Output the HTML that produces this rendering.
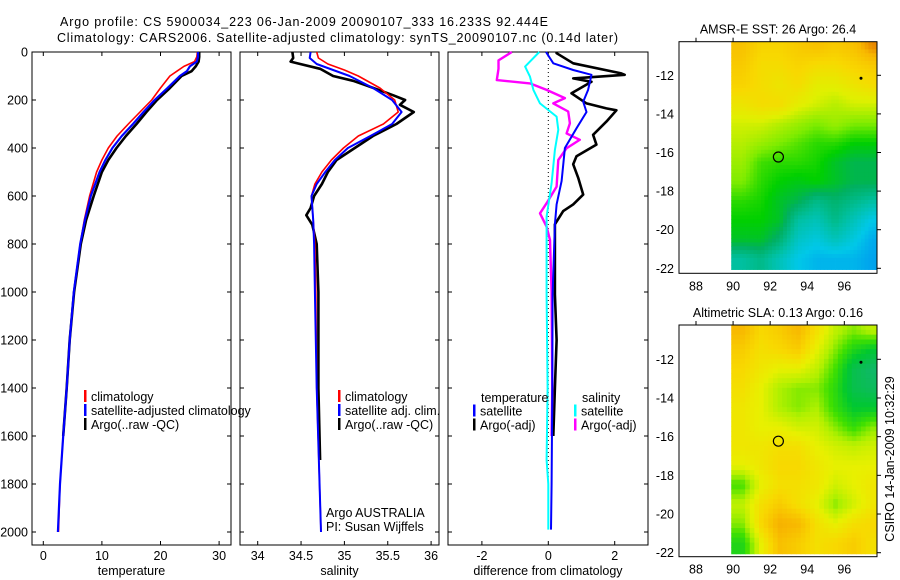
<!DOCTYPE html>
<html><head><meta charset="utf-8"><style>
html,body{margin:0;padding:0;background:#fff;}
svg{display:block;font-family:"Liberation Sans",sans-serif;}
text{font-size:12.5px;fill:#000;}
</style></head><body>
<svg id="fig" width="900" height="580" viewBox="0 0 900 580" xmlns="http://www.w3.org/2000/svg">
<text x="60" y="26" font-size="13.5" textLength="488">Argo profile: CS 5900034_223 06-Jan-2009 20090107_333 16.233S 92.444E</text>
<text x="57" y="42" font-size="13.5" textLength="561">Climatology: CARS2006. Satellite-adjusted climatology: synTS_20090107.nc (0.14d later)</text>
<g id="g1"></g>
<g id="g2"></g>
<g id="g3"></g>
<g id="m1"></g>
<g id="m2"></g>
<text x="0" y="0" transform="translate(894,459) rotate(-90)" text-anchor="middle" font-size="13">CSIRO 14-Jan-2009 10:32:29</text>
</svg>
<script>
// ---------- data ----------
const tDepth = [0,20,40,60,80,100,150,200,250,300,350,400,450,500,600,700,800,1000,1200,1400,1600,1800,2000];
const tClim = [26.3,26.2,25.8,24.0,22.8,21.6,20.0,18.5,16.5,14.5,12.6,11.1,10.0,9.1,7.9,7.0,6.3,5.2,4.5,4.0,3.4,2.85,2.6];
const tSat = [26.4,26.4,26.2,25.0,24.5,23.3,21.2,19.0,17.1,15.3,13.4,11.8,10.6,9.6,8.1,7.1,6.3,5.2,4.5,4.0,3.4,2.85,2.5];
const tArgoDepth = [0,20,40,60,80,100,150,200,250,300,350,400,450,500,600,700,800,1000,1200,1400,1600];
const tArgo = [26.6,26.6,26.5,26.0,25.3,23.6,21.6,19.4,17.6,15.9,14.1,12.5,11.1,10.0,8.6,7.3,6.4,5.25,4.5,4.0,3.4];

const sDepth = [0,25,50,75,100,150,200,250,300,350,400,450,500,550,600,700,800,1000,1400,2000];
const sClim = [34.68,34.70,34.81,35.0,35.16,35.41,35.58,35.62,35.45,35.16,34.99,34.85,34.74,34.66,34.62,34.64,34.66,34.67,34.68,34.73];
const sSat = [34.61,34.60,34.68,34.87,35.06,35.33,35.55,35.66,35.55,35.30,35.04,34.89,34.78,34.68,34.62,34.64,34.65,34.66,34.68,34.73];
const sArgoDepth = [0,25,40,50,70,100,120,140,180,200,220,250,300,350,400,450,500,550,600,650,680,720,800,1000,1400,1700];
const sArgo = [34.40,34.41,34.38,34.49,34.72,34.87,35.10,35.26,35.56,35.70,35.64,35.80,35.60,35.33,35.12,34.91,34.81,34.74,34.65,34.61,34.56,34.63,34.68,34.70,34.70,34.72];

const dBlueDepth = [0,47,75,95,158,207,250,318,400,538,635,718,1010,1400,1800,1990];
const dBlue = [-0.07,0.15,0.75,1.3,1.2,1.05,1.15,0.85,0.5,0.4,0.25,0.2,0.13,0.12,0.1,0.08];
const dBlackDepth = [0,5,47,89,95,110,124,172,214,235,243,290,345,386,434,468,524,594,635,663,718,913,1010,1200,1400,1600];
const dBlack = [0.25,0.25,0.75,2.2,2.3,0.75,1.3,0.7,1.15,1.75,2.05,1.75,1.35,1.45,0.85,0.75,0.9,1.05,0.75,0.45,0.2,0.2,0.2,0.25,0.2,0.15];
const dCyanDepth = [0,61,103,158,214,269,324,408,547,686,1010,1400,1700,1800,1990];
const dCyan = [-0.27,-0.7,-0.55,-0.45,-0.25,0.25,0.3,0.2,0.1,-0.05,-0.05,-0.02,-0.05,0.0,0.0];
const dMagDepth = [0,35,70,117,131,158,192,214,248,297,339,366,401,450,561,630,672,728,783,1000,1400,1600];
const dMag = [-1.1,-1.5,-1.5,-1.55,-0.55,-0.05,0.5,0.15,0.6,0.65,0.55,0.95,0.55,0.3,0.25,-0.05,-0.25,-0.05,0.05,0.1,0.12,0.1];

const depthTicks = [0,200,400,600,800,1000,1200,1400,1600,1800,2000];
const tempTicks = [0,10,20,30];
const salTicks = [34,34.5,35,35.5,36];
const diffTicks = [-2,0,2];
const lonTicks = [88,90,92,94,96];
const latTicks = [-12,-14,-16,-18,-20,-22];

const sstGrid = [
[27.3,27.1,27.1,27.2,27.3,27.2,27.3,27.6],
[27.2,27.0,27.0,27.1,27.0,27.0,27.1,27.2],
[27.1,27.0,26.9,27.0,26.8,26.8,26.9,27.0],
[26.9,27.0,27.0,26.8,26.7,26.6,26.7,26.7],
[26.7,26.7,26.6,26.5,26.4,26.5,26.4,26.4],
[26.6,26.5,26.4,26.3,26.2,26.2,26.1,26.1],
[26.5,26.25,26.2,26.2,26.15,26.0,25.9,25.9],
[26.4,26.2,26.1,26.05,26.1,26.0,25.9,25.9],
[26.2,26.15,26.0,25.9,25.7,25.8,25.7,25.6],
[26.1,26.1,26.0,25.6,25.5,25.7,25.5,25.3],
[26.0,26.0,25.8,25.45,25.35,25.5,25.35,25.15],
[25.6,25.7,25.5,25.3,25.2,25.2,25.2,25.1]];
const slaGrid = [
[0.30,0.22,0.25,0.30,0.20,0.10,0.05,0.10],
[0.25,0.20,0.22,0.25,0.15,0.05,-0.05,-0.10],
[0.22,0.18,0.15,0.15,0.10,0.00,-0.15,-0.20],
[0.20,0.15,0.08,0.05,0.05,-0.03,-0.15,-0.18],
[0.18,0.15,0.08,0.05,0.08,-0.02,-0.10,-0.10],
[0.18,0.15,0.15,0.12,0.12,0.05,-0.02,0.05],
[0.18,0.18,0.20,0.20,0.15,0.12,0.10,0.12],
[0.15,0.18,0.22,0.22,0.18,0.15,0.15,0.15],
[0.00,0.15,0.20,0.20,0.18,0.12,0.15,0.18],
[0.10,0.20,0.25,0.20,0.15,0.05,0.12,0.18],
[0.05,0.22,0.32,0.30,0.20,0.15,0.20,0.22],
[-0.05,0.15,0.28,0.25,0.20,0.22,0.25,0.20]];
const argoLon = 92.444, argoLat = -16.233;

// ---------- helpers ----------
const NS="http://www.w3.org/2000/svg";
function mk(parent,tag,attrs,txt){const e=document.createElementNS(NS,tag);for(const k in attrs)e.setAttribute(k,attrs[k]);if(txt!==undefined)e.textContent=txt;parent.appendChild(e);return e;}
const yD = d => 52 + d*0.24;
const PT = 52, PB = 545;

function panel(g,x0,x1,xs,xTicks,xLabel,fmt,leftLabels){
  const f=mk(g,'rect',{x:x0,y:PT,width:x1-x0,height:PB-PT,fill:'none',stroke:'#000','stroke-width':1});
  
  
  depthTicks.forEach(d=>{
    const y=yD(d);
    mk(g,'line',{x1:x0,x2:x0+4,y1:y,y2:y,stroke:'#000'});
    mk(g,'line',{x1:x1-4,x2:x1,y1:y,y2:y,stroke:'#000'});
    if(leftLabels){const t=mk(g,'text',{x:x0-4,y:y+4.5,'text-anchor':'end'},String(d));
      
      }
  });
  xTicks.forEach(v=>{
    const x=xs(v);
    mk(g,'line',{x1:x,x2:x,y1:PB,y2:PB-4,stroke:'#000'});
    mk(g,'line',{x1:x,x2:x,y1:PT,y2:PT+4,stroke:'#000'});
    const t=mk(g,'text',{x:x,y:560,'text-anchor':'middle'},fmt(v));
    
    
  });
  const t=mk(g,'text',{x:(x0+x1)/2,y:575,'text-anchor':'middle'},xLabel);
  
  
}
function line(g,xs,vals,depths,color,w,name){
  const pts=vals.map((v,i)=>xs(v).toFixed(1)+','+yD(depths[i]).toFixed(1)).join(' ');
  const p=mk(g,'polyline',{points:pts,fill:'none',stroke:color,'stroke-width':w,'stroke-linejoin':'round'});
  
  
}
function legend(g,x,y,color,label,name){
  mk(g,'rect',{x:x,y:y-7,width:2.5,height:12,fill:color});
  const t=mk(g,'text',{x:x+7,y:y+4},label);
  
  
}

// ---------- temperature ----------
const g1=document.getElementById('g1');
const xT=v=>43.3+v*5.86;
panel(g1,32,231,xT,tempTicks,'temperature',v=>String(v),true);
line(g1,xT,tArgo,tArgoDepth,'#000',2.6,'temperature-argo-line');
line(g1,xT,tClim,tDepth,'#f00',1.6,'temperature-climatology-line');
line(g1,xT,tSat,tDepth,'#00f',2.2,'temperature-satellite-line');
legend(g1,84,397,'#f00','climatology','legend-climatology');
legend(g1,84,411,'#00f','satellite-adjusted climatology','legend-satellite-adjusted');
legend(g1,84,425,'#000','Argo(..raw -QC)','legend-argo');

// ---------- salinity ----------
const g2=document.getElementById('g2');
const xS=v=>257.7+(v-34)*86.7;
panel(g2,240,439,xS,salTicks,'salinity',v=>String(v),false);
line(g2,xS,sArgo,sArgoDepth,'#000',2.6,'salinity-argo-line');
line(g2,xS,sClim,sDepth,'#f00',1.6,'salinity-climatology-line');
line(g2,xS,sSat,sDepth,'#00f',2,'salinity-satellite-line');
legend(g2,338,397,'#f00','climatology','legend-climatology');
legend(g2,338,411,'#00f','satellite adj. clim.','legend-satellite-adj');
legend(g2,338,425,'#000','Argo(..raw -QC)','legend-argo');
let t=mk(g2,'text',{x:326,y:517},'Argo AUSTRALIA');


t=mk(g2,'text',{x:326,y:531},'PI: Susan Wijffels');



// ---------- difference ----------
const g3=document.getElementById('g3');
const xDf=v=>548.3+v*33.2;
panel(g3,448,648,xDf,diffTicks,'difference from climatology',v=>String(v),false);
const zl=mk(g3,'line',{x1:xDf(0),x2:xDf(0),y1:PT,y2:yD(2000),stroke:'#000','stroke-dasharray':'1,3'});


line(g3,xDf,dBlack,dBlackDepth,'#000',2.6,'temperature-argo-diff-line');
line(g3,xDf,dMag,dMagDepth,'#f0f',2.4,'salinity-argo-diff-line');
line(g3,xDf,dCyan,dCyanDepth,'#0ff',2,'salinity-satellite-diff-line');
line(g3,xDf,dBlue,dBlueDepth,'#00f',2,'temperature-satellite-diff-line');
t=mk(g3,'text',{x:481,y:402},'temperature');


t=mk(g3,'text',{x:582,y:402},'salinity');


legend(g3,473,411.5,'#00f','satellite','legend-temp-satellite');
legend(g3,473,425.5,'#000','Argo(-adj)','legend-temp-argo');
legend(g3,574,411.5,'#0ff','satellite','legend-sal-satellite');
legend(g3,574,425.5,'#f0f','Argo(-adj)','legend-sal-argo');

// ---------- maps ----------
function hex(c){return [parseInt(c.slice(1,3),16),parseInt(c.slice(3,5),16),parseInt(c.slice(5,7),16)];}
function cmap(stops,v){
  if(v<=stops[0][0])return stops[0][1];
  for(let i=1;i<stops.length;i++){
    if(v<=stops[i][0]){const a=hex(stops[i-1][1]),b=hex(stops[i][1]);const f=(v-stops[i-1][0])/(stops[i][0]-stops[i-1][0]);
      return 'rgb('+a.map((x,k)=>Math.round(x+(b[k]-x)*f)).join(',')+')';}
  }
  return stops[stops.length-1][1];
}
function interp(grid,lon,lat){
  let c=(lon-90.5), r=(-10.5-lat);
  c=Math.max(0,Math.min(7,c)); r=Math.max(0,Math.min(11,r));
  const c0=Math.min(6,Math.floor(c)), r0=Math.min(10,Math.floor(r));
  const fc=c-c0, fr=r-r0;
  const a=grid[r0][c0]*(1-fc)+grid[r0][c0+1]*fc;
  const b=grid[r0+1][c0]*(1-fc)+grid[r0+1][c0+1]*fc;
  return a*(1-fr)+b*fr;
}
const sstStops=[[25.0,'#0090f0'],[25.3,'#00c8e8'],[25.6,'#00c0a0'],[25.85,'#00b060'],[26.1,'#00d000'],[26.4,'#80ec00'],[26.75,'#e0f000'],[27.05,'#f8d800'],[27.4,'#f8b800'],[27.7,'#e07000']];
const slaStops=[[-0.2,'#10b868'],[-0.1,'#00c830'],[0.0,'#40e000'],[0.08,'#b0f000'],[0.15,'#e8f000'],[0.22,'#f8d800'],[0.3,'#f8b800'],[0.38,'#f0a000']];

function drawMap(g,top,bottom,lat12,lat22,grid,stops,title,step){
  const x0=679, x1=877;
  const xL=lon=>696+(lon-88)*18.54;
  const yL=lat=>lat12+(lat+12)*(lat22-lat12)/(-10);
  const latTop=-12-(top-lat12)/((lat22-lat12)/10);
  for(let lat=latTop; lat>-22.06; lat-=step){
    for(let lon=89.9; lon<97.8; lon+=step){
      const v=interp(grid,lon+step/2,lat-step/2);
      const yy=yL(lat), yb=Math.min(yL(Math.max(lat-step,-22.06)),bottom);
      mk(g,'rect',{x:xL(lon).toFixed(2),y:yy.toFixed(2),width:(Math.min(xL(lon+step),x1)-xL(lon)+0.4).toFixed(2),height:(yb-yy+0.4).toFixed(2),fill:cmap(stops,v)});
    }
  }
  const f=mk(g,'rect',{x:x0,y:top,width:x1-x0,height:bottom-top,fill:'none',stroke:'#000'});
  
  
  lonTicks.forEach(lon=>{const x=xL(lon);
    mk(g,'line',{x1:x,x2:x,y1:top,y2:top-4,stroke:'#000'});
    const tt=mk(g,'text',{x:x,y:bottom+17,'text-anchor':'middle'},String(lon));
    
    });
  latTicks.forEach(lat=>{const y=yL(lat);
    mk(g,'line',{x1:x1,x2:x1+4,y1:y,y2:y,stroke:'#000'});
    const tt=mk(g,'text',{x:674,y:y+4.5,'text-anchor':'end'},String(lat));
    
    });
  const c=mk(g,'circle',{cx:xL(argoLon),cy:yL(argoLat),r:5,fill:'none',stroke:'#000','stroke-width':1.2});
  
  
  mk(g,'circle',{cx:xL(96.9),cy:yL(-12.15),r:1.5,fill:'#000'});
  const tt=mk(g,'text',{x:778,y:top-8,'text-anchor':'middle',"font-size":"13"},title);
  
  
}
drawMap(document.getElementById('m1'),41.7,273.3,75.3,268.3,sstGrid,sstStops,'AMSR-E SST: 26 Argo: 26.4',0.2);
drawMap(document.getElementById('m2'),325,556.7,359.3,552.7,slaGrid,slaStops,'Altimetric SLA: 0.13 Argo: 0.16',0.25);
</script>
</body></html>
